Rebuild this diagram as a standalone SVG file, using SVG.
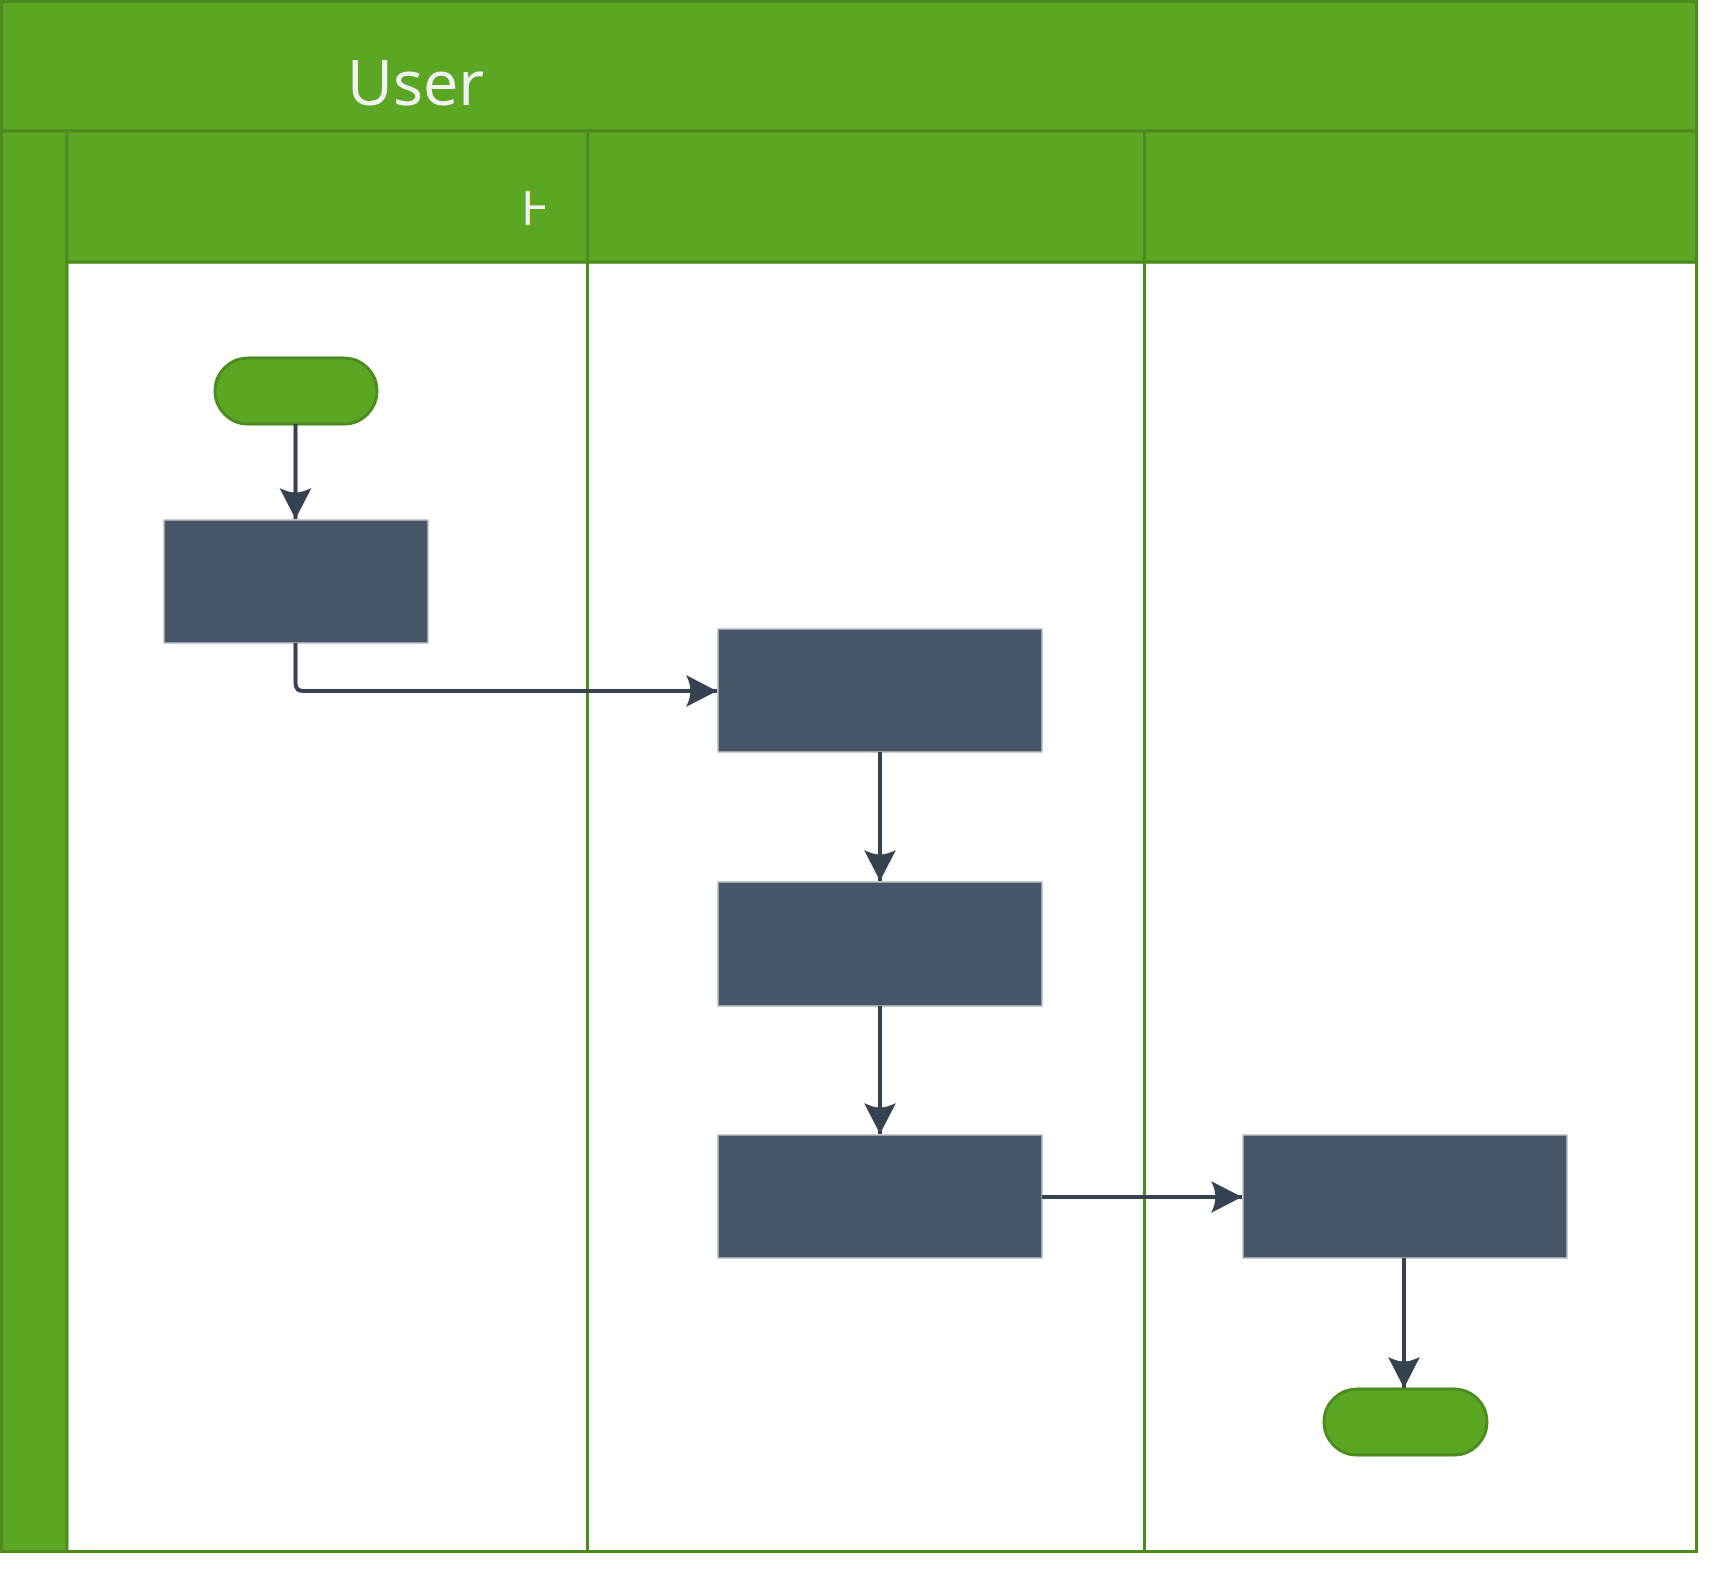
<svg xmlns="http://www.w3.org/2000/svg" width="1720" height="1581" viewBox="0 0 1720 1581">
<style>
.hdr{fill:#5ba622;stroke:#4c8c1e;stroke-width:3}
.lane{fill:#ffffff;stroke:#4c8c1e;stroke-width:3}
.term{fill:#5ba622;stroke:#4c8c1e;stroke-width:3}
.box{fill:#465567;stroke:#b9bcc0;stroke-width:1.5}
.conn{fill:none;stroke:#374250;stroke-width:4}
.title{fill:#f2f2f2;font-family:"Open Sans","Noto Sans","Liberation Sans",sans-serif}
</style>
<defs>
<marker id="arr" markerUnits="userSpaceOnUse" markerWidth="40" markerHeight="40" viewBox="-34 -20 38 40" refX="0" refY="0" orient="auto">
<path d="M0,0 L-31,-16 Q-26,-6 -27,0 Q-26,6 -31,16 Z" fill="#374250"/>
</marker>
<clipPath id="clipH"><rect x="67" y="131" width="478" height="131"/></clipPath>
</defs>
<rect x="0" y="0" width="1720" height="1581" fill="#ffffff"/>
<g id="pool">
<rect class="lane" x="1.5" y="1.5" width="1695" height="1550"/>
<rect class="hdr" x="1.5" y="1.5" width="1695" height="129.5"/>
<rect class="hdr" x="1.5" y="131" width="65.5" height="1420.5"/>
<text class="title" x="347" y="105" font-size="63">User</text>
</g>
<g id="lane1">
<rect class="lane" x="67" y="262" width="520.5" height="1289.5"/>
<rect class="hdr" x="67" y="131" width="520.5" height="131"/>
<text class="title" x="521" y="225" font-size="48" clip-path="url(#clipH)">H</text>
</g>
<g id="lane2">
<rect class="lane" x="587.5" y="262" width="557" height="1289.5"/>
<rect class="hdr" x="587.5" y="131" width="557" height="131"/>
</g>
<g id="lane3">
<rect class="lane" x="1144.5" y="262" width="552" height="1289.5"/>
<rect class="hdr" x="1144.5" y="131" width="552" height="131"/>
</g>
<g id="start"><rect class="term" x="215" y="358" width="162" height="66" rx="33" ry="33"/></g>
<g id="step1"><rect class="box" x="164" y="520" width="264" height="123"/></g>
<g id="step2"><rect class="box" x="718" y="629" width="324" height="123"/></g>
<g id="step3"><rect class="box" x="718" y="882" width="324" height="124"/></g>
<g id="step4"><rect class="box" x="718" y="1135" width="324" height="123"/></g>
<g id="step5"><rect class="box" x="1243" y="1135" width="324" height="123"/></g>
<g id="end"><rect class="term" x="1324" y="1389" width="163" height="66" rx="33" ry="33"/></g>
<g id="connectors">
<path class="conn" d="M295.5,424 V519" marker-end="url(#arr)"/>
<path class="conn" d="M295.5,643 V683 Q295.5,691 303.5,691 H717" marker-end="url(#arr)"/>
<path class="conn" d="M880,752 V881" marker-end="url(#arr)"/>
<path class="conn" d="M880,1006 V1134" marker-end="url(#arr)"/>
<path class="conn" d="M1042,1197 H1242" marker-end="url(#arr)"/>
<path class="conn" d="M1404,1258 V1388" marker-end="url(#arr)"/>
</g>
</svg>
